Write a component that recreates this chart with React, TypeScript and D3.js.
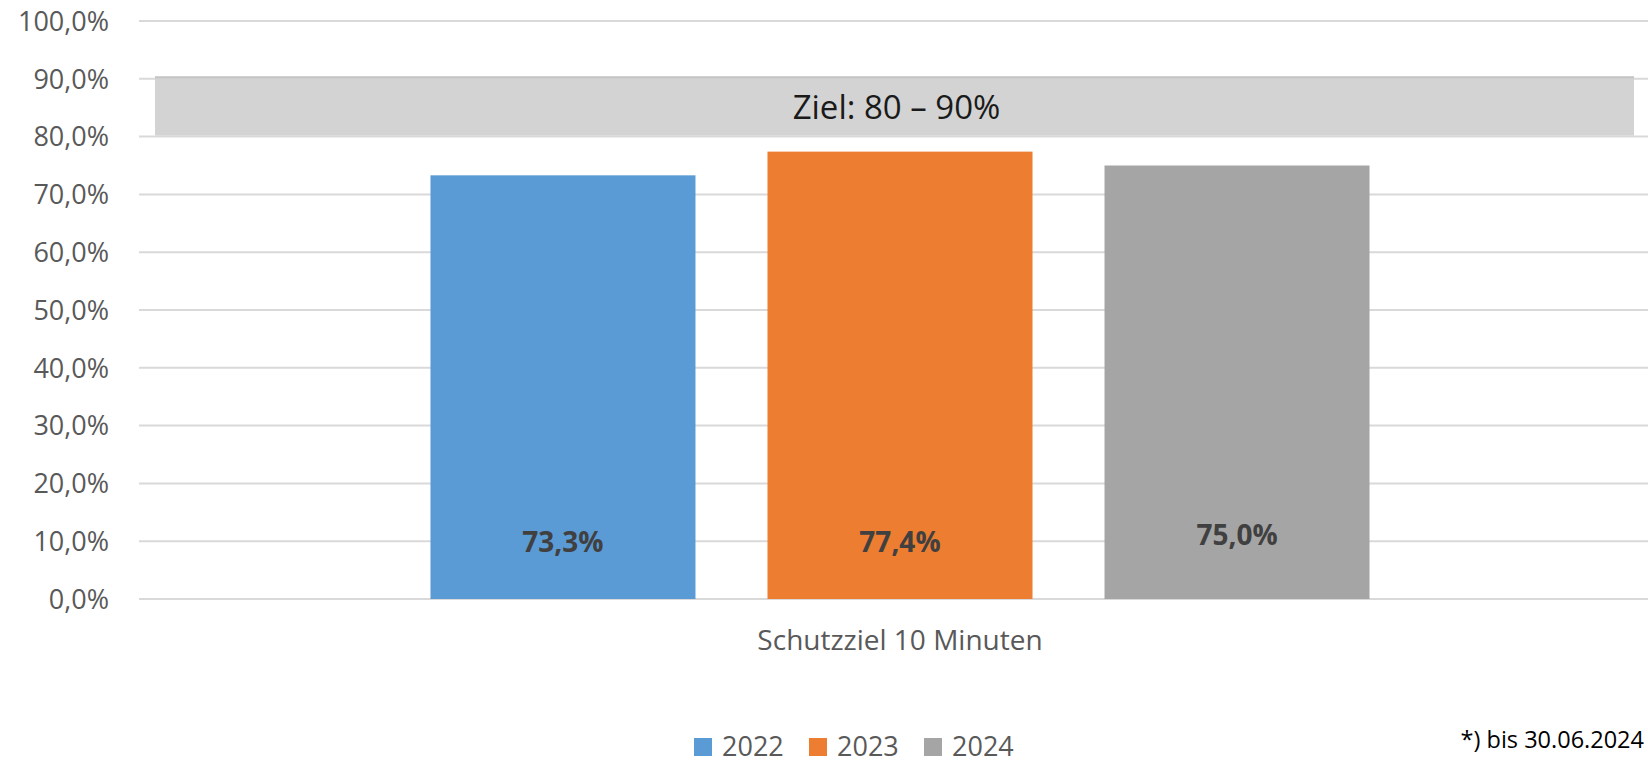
import React from 'react';
import * as d3 from 'd3';

const categories = ['Schutzziel 10 Minuten'];
const years = ['2022', '2023', '2024'];
const values = [73.3, 77.4, 75.0];
const colors = ['#5b9bd5', '#ed7d31', '#a5a5a5'];
const yTicks = [0, 10, 20, 30, 40, 50, 60, 70, 80, 90, 100];
const target = [80, 90];
const targetLabel = 'Ziel: 80 – 90%';
const footnote = '*) bis 30.06.2024';

const W = 1648;
const H = 764;
const FONT = '"Open Sans", "Noto Sans", sans-serif';

const fmt = (v: number) => v.toFixed(1).replace('.', ',') + '%';

export default function App() {
  const margin = { top: 21, left: 139, bottom: 165 };
  const plotRight = 1661;
  const y = d3.scaleLinear().domain([0, 100]).range([H - margin.bottom, margin.top]);

  const x0 = d3.scaleBand<string>()
    .domain(categories)
    .range([margin.left, plotRight])
    .paddingInner(0)
    .paddingOuter(0.2527);

  const x1 = d3.scaleBand<string>()
    .domain(years)
    .range([0, x0.bandwidth()])
    .paddingInner(0.2137)
    .paddingOuter(0.1068);

  // label lift (px) – Excel labels were nudged by hand
  const labelLift = [0, 0, 7];

  const bandX0 = margin.left + 16;
  const bandX1 = 1634;

  return (
    <svg width={W} height={H} style={{ position: 'absolute', left: 0, top: 0, background: '#fff' }}>
      {/* grid */}
      {yTicks.map(t => (
        <line key={t} x1={margin.left} x2={W} y1={y(t)} y2={y(t)} stroke="#d9d9d9" strokeWidth={2} />
      ))}
      {yTicks.map(t => (
        <text key={'l' + t} x={109} y={y(t)} dy="0.36em" textAnchor="end"
          fontFamily={FONT} fontSize={27} fill="#595959">{fmt(t)}</text>
      ))}

      {/* target band */}
      <rect x={bandX0} width={bandX1 - bandX0} y={y(target[1]) - 2} height={y(target[0]) - y(target[1]) + 1}
        fill="#d3d3d3" />
      <line x1={bandX0} x2={bandX1} y1={y(target[1]) - 1.5} y2={y(target[1]) - 1.5} stroke="#c4c4c4" strokeWidth={2} />
      <text x={(bandX0 + bandX1) / 2 + 2} y={(y(target[0]) + y(target[1])) / 2 - 1} dy="0.36em" textAnchor="middle"
        fontFamily={FONT} fontSize={33} fill="#1a1a1a">{targetLabel}</text>

      {/* bars */}
      {categories.map(c => (
        <g key={c} transform={`translate(${x0(c)},0)`}>
          {years.map((yr, i) => (
            <rect key={yr} x={x1(yr)} width={x1.bandwidth()} y={y(values[i])}
              height={y(0) - y(values[i])} fill={colors[i]} />
          ))}
          {years.map((yr, i) => (
            <text key={'v' + yr} x={(x1(yr) ?? 0) + x1.bandwidth() / 2} y={y(10) + 1 - labelLift[i]} dy="0.36em"
              textAnchor="middle" fontFamily={FONT} fontSize={28} fontWeight={700} fill="#404040">{fmt(values[i])}</text>
          ))}
          <text x={x0.bandwidth() / 2} y={650} textAnchor="middle" fontFamily={FONT} fontSize={28} fill="#595959">{c}</text>
        </g>
      ))}

      {/* legend */}
      {years.map((yr, i) => (
        <g key={'lg' + yr} transform={`translate(${694 + i * 115},0)`}>
          <rect x={0} y={738} width={18} height={18} fill={colors[i]} />
          <text x={28} y={756} fontFamily={FONT} fontSize={27} fill="#595959">{yr}</text>
        </g>
      ))}

      <text x={W - 4} y={748} textAnchor="end" fontFamily={FONT} fontSize={23.5} fill="#000">{footnote}</text>
    </svg>
  );
}
